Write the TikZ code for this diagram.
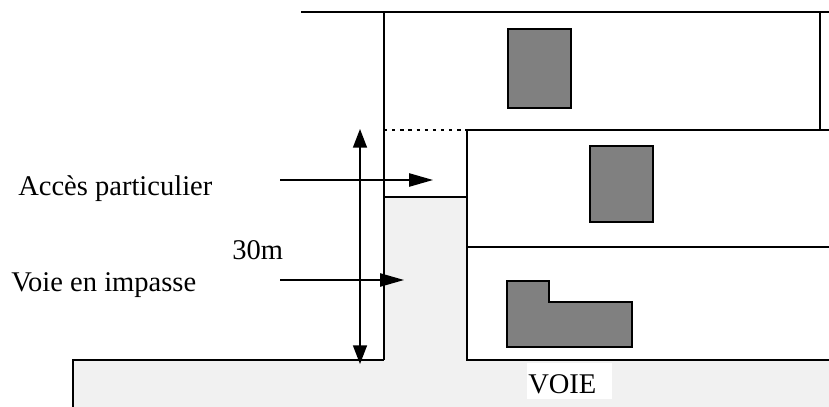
\documentclass[tikz,border=0pt]{standalone}
\usepackage{fontspec}
\setmainfont{Liberation Serif}
\usetikzlibrary{arrows.meta}
\definecolor{voie}{gray}{0.945}
\definecolor{bati}{gray}{0.5}
\tikzset{
  x=0.75pt,y=-0.75pt,
  wall/.style={draw=black,line width=1.5pt,line cap=butt},
  thin wall/.style={draw=black,line width=1.1pt},
  batiment/.style={draw=black,fill=bati,line width=1.5pt,line join=miter},
  fleche/.style={draw=black,line width=1.1pt,-{Triangle[length=18pt,width=10pt]}},
  fleched/.style={draw=black,line width=1.1pt,{Triangle[length=14pt,width=10.5pt]}-{Triangle[length=14pt,width=10.5pt]}},
  label/.style={font=\fontsize{21.4pt}{24pt}\selectfont,inner sep=0pt,anchor=base west},
}
\begin{document}
\begin{tikzpicture}
\useasboundingbox (0,0) rectangle (829,407);
% voie
\fill[voie] (73,360) -- (383,360) -- (383,197) -- (466,197) -- (466,360) -- (829,360) -- (829,407) -- (73,407) -- cycle;
% limites
\draw[thin wall] (73,407) -- (73,360) -- (383.5,360);
\draw[thin wall] (466,360) -- (829,360);
\draw[thin wall] (383.5,197) -- (466,197);
\draw[wall] (301,12) -- (829,12);
\draw[wall] (383.5,12) -- (383.5,360);
\draw[wall] (819.5,12) -- (819.5,130);
\draw[wall] (466.5,130) -- (466.5,360);
\draw[wall] (466,130) -- (829,130);
\draw[wall] (466,247) -- (829,247);
\draw[black,line width=1.5pt,dash pattern=on 2.5pt off 3.6pt] (384,130) -- (466,130);
% batiments
\draw[batiment] (507.5,29) rectangle (570.5,107.5);
\draw[batiment] (590,146) rectangle (653,222);
\draw[batiment] (507,280.5) -- (549,280.5) -- (549,302) -- (632,302) -- (632,347) -- (507,347) -- cycle;
% textes
\node[label] (acces) at (18,195) {Accès particulier};
\node[label] (impasse) at (11,291) {Voie en impasse};
\node[label] (trente) at (232,259) {30m};
\node[fill=white,inner sep=0pt,minimum width=63.75pt,minimum height=27pt] (voietxt) at (569.5,381) {};
\node[label] (voiemot) at (528,393.5) {VOIE};
% fleches
\coordinate (a1) at (280,180);
\coordinate (a2) at (433,180);
\coordinate (b1) at (280,280);
\coordinate (b2) at (404,280);
\coordinate (c1) at (360,129);
\coordinate (c2) at (360,364);
\draw[fleche] (a1) -- (a2);
\draw[fleche] (b1) -- (b2);
\draw[fleched] (c1) -- (c2);
\end{tikzpicture}
\end{document}
